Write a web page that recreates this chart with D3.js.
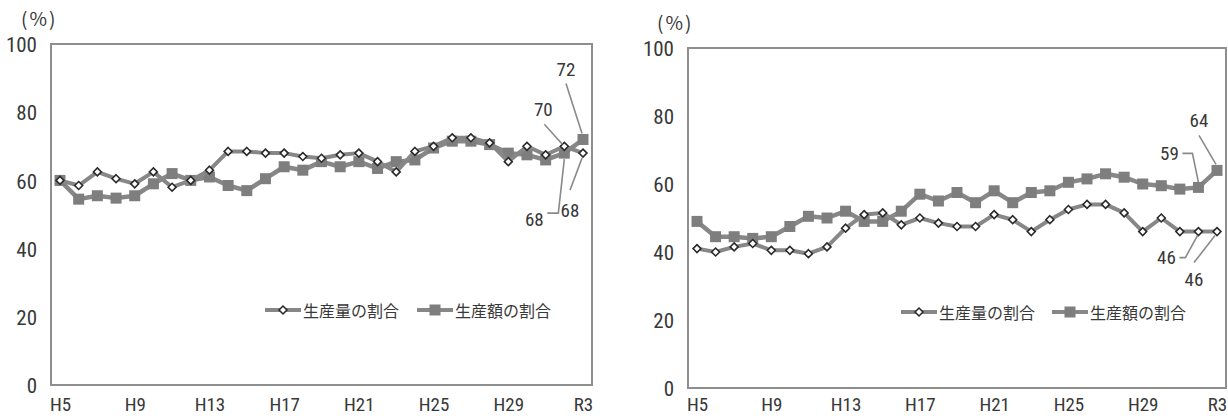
<!DOCTYPE html>
<html>
<head>
<meta charset="utf-8">
<script src="https://cdn.jsdelivr.net/npm/d3@7"></script>
<style>
  html, body { margin: 0; padding: 0; background: #fff; }
  svg { display: block; }
  .num { font-family: "Liberation Sans Narrow", "Arial Narrow", "Roboto Condensed", "Liberation Sans", sans-serif; fill: #383838; }
  .jp { font-family: "Noto Sans CJK JP", "Noto Sans", sans-serif; fill: #383838; }
</style>
</head>
<body>
<svg id="chart" width="1228" height="416"></svg>
<script>
// Fiscal years H5 (1993) to R3 (2021)
const years = ["H5","H6","H7","H8","H9","H10","H11","H12","H13","H14","H15","H16","H17","H18","H19","H20",
  "H21","H22","H23","H24","H25","H26","H27","H28","H29","H30","R1","R2","R3"];
const tickYears = ["H5","H9","H13","H17","H21","H25","H29","R3"];
const yTicks = [0, 20, 40, 60, 80, 100];
const seriesNames = ["生産量の割合", "生産額の割合"];

// Left panel
const leftVolume = [60, 58.5, 62.5, 60.5, 59, 62.5, 58, 60, 63, 68.5, 68.5, 68, 68, 67, 66.5,
  67.5, 68, 65.5, 62.5, 68.5, 70, 72.5, 72.5, 71, 65.5, 70, 67.5, 70, 68];
const leftValue = [60, 54.5, 55.5, 54.8, 55.5, 59, 62, 60, 61, 58.5, 57, 60.5, 64, 63, 65.5,
  64, 65.5, 63.5, 65.5, 66, 69.5, 71.5, 71.5, 70.5, 68, 67.5, 66, 68, 72];

// Right panel
const rightVolume = [41, 40, 41.5, 42.5, 40.5, 40.5, 39.5, 41.5, 47, 51, 51.5, 48, 50, 48.5, 47.5,
  47.5, 51, 49.5, 46, 49.5, 52.5, 54, 54, 51.5, 46, 50, 46, 46, 46];
const rightValue = [49, 44.5, 44.5, 44, 44.5, 47.5, 50.5, 50, 52, 49, 49, 52, 57, 55, 57.5,
  54.5, 58, 54.5, 57.5, 58, 60.5, 61.5, 63, 62, 60, 59.5, 58.5, 59, 64];

const svg = d3.select("#chart");
const LINE = "#878787";

function drawPanel(cfg) {
  const g = svg.append("g");
  const x = d3.scaleLinear().domain([0, years.length - 1]).range([cfg.left + 9, cfg.right - 9]);
  const y = d3.scaleLinear().domain([0, 100]).range([cfg.bottom, cfg.top]);

  // unit label
  g.append("text").attr("class", "jp").attr("x", cfg.unitX).attr("y", cfg.top - 18)
    .attr("font-size", 19).attr("letter-spacing", 2).text("(%)");

  // y axis labels
  const ya = g.append("g").attr("transform", `translate(${cfg.left},1)`)
    .call(d3.axisLeft(y).tickValues(yTicks).tickSize(0).tickPadding(14));
  ya.select(".domain").remove();
  ya.selectAll("text").attr("class", "num").attr("font-size", 21).attr("fill", "#383838");

  // x axis labels
  const xa = g.append("g").attr("transform", `translate(0,${cfg.bottom})`)
    .call(d3.axisBottom(x).tickValues(tickYears.map(t => years.indexOf(t)))
      .tickFormat(i => years[i]).tickSize(0).tickPadding(0));
  xa.select(".domain").remove();
  xa.selectAll("text").attr("class", "num").attr("font-size", 19).attr("fill", "#383838")
    .attr("dy", null).attr("y", cfg.labelBase);

  // frame
  g.append("rect").attr("x", cfg.left).attr("y", cfg.top)
    .attr("width", cfg.right - cfg.left).attr("height", cfg.bottom - cfg.top)
    .attr("fill", "none").attr("stroke", "#8e8e8e").attr("stroke-width", 2);

  const line = d3.line().x((d, i) => x(i)).y(d => y(d));

  // value share: thick line with square markers
  g.append("path").datum(cfg.value).attr("d", line)
    .attr("fill", "none").attr("stroke", LINE).attr("stroke-width", 4.5).attr("stroke-linejoin", "round");
  g.selectAll(".sq").data(cfg.value).join("rect")
    .attr("x", (d, i) => x(i) - 5.5).attr("y", d => y(d) - 5.5)
    .attr("width", 11).attr("height", 11).attr("fill", "#7e7e7e");

  // volume share: line with open diamond markers
  g.append("path").datum(cfg.volume).attr("d", line)
    .attr("fill", "none").attr("stroke", LINE).attr("stroke-width", 4).attr("stroke-linejoin", "round");
  const diamond = d3.symbol().type(d3.symbolDiamond2).size(40);
  g.selectAll(".dm").data(cfg.volume).join("path")
    .attr("d", diamond)
    .attr("transform", (d, i) => `translate(${x(i)},${y(d)})`)
    .attr("fill", "#fff").attr("stroke", "#2a2a2a").attr("stroke-width", 1.6);

  // callouts: value labels with leader lines
  cfg.callouts.forEach(c => {
    const arr = c.series === "value" ? cfg.value : cfg.volume;
    const px = x(c.i), py = y(arr[c.i]);
    const pts = c.path.map(p => [px + p[0], py + p[1]]);
    pts.push([px + c.end[0], py + c.end[1]]);
    g.append("path").attr("d", d3.line()(pts))
      .attr("fill", "none").attr("stroke", "#8a8a8a").attr("stroke-width", 1.6);
    g.append("text").attr("class", "num").attr("font-size", 19)
      .attr("x", px + c.label[0]).attr("y", py + c.label[1])
      .attr("text-anchor", "middle").attr("dominant-baseline", "central")
      .text(Math.round(arr[c.i]));
  });

  // legend
  const lg = g.append("g").attr("transform", `translate(${cfg.legendX},${cfg.legendY})`);
  const items = [
    { name: seriesNames[0], dx: 0, kind: "diamond", w: 36 },
    { name: seriesNames[1], dx: cfg.legendGap, kind: "square", w: 36 }
  ];
  items.forEach(it => {
    const ig = lg.append("g").attr("transform", `translate(${it.dx},0)`);
    ig.append("line").attr("x1", 0).attr("x2", it.w).attr("y1", 0).attr("y2", 0)
      .attr("stroke", LINE).attr("stroke-width", 4);
    if (it.kind === "diamond") {
      ig.append("path").attr("d", diamond).attr("transform", `translate(${it.w / 2},0)`)
        .attr("fill", "#fff").attr("stroke", "#2a2a2a").attr("stroke-width", 1.6);
    } else {
      ig.append("rect").attr("x", it.w / 2 - 5.5).attr("y", -5.5).attr("width", 11).attr("height", 11)
        .attr("fill", "#7e7e7e");
    }
    ig.append("text").attr("class", "jp").attr("x", it.w + 2).attr("y", 0)
      .attr("dominant-baseline", "central").attr("font-size", 16).text(it.name);
  });
}

drawPanel({
  left: 51, right: 592, top: 44, bottom: 385, unitX: 21, labelBase: 26,
  volume: leftVolume, value: leftValue,
  legendX: 265, legendY: 310, legendGap: 152,
  callouts: [
    { series: "value", i: 28, path: [[-17, -56]], end: [-1, -6], label: [-17, -70] },
    { series: "volume", i: 27, path: [[-20, -22]], end: [-2, -2], label: [-21, -37] },
    { series: "value", i: 27, path: [[-17, 60], [-6, 60]], end: [0, 6], label: [-30, 66] },
    { series: "volume", i: 28, path: [[-13, 37]], end: [-1, 5], label: [-13, 57] }
  ]
});

drawPanel({
  left: 688, right: 1226, top: 48, bottom: 388, unitX: 657, labelBase: 23,
  volume: rightVolume, value: rightValue,
  legendX: 901, legendY: 312, legendGap: 151,
  callouts: [
    { series: "value", i: 28, path: [[-18, -35]], end: [-1, -6], label: [-18, -50] },
    { series: "value", i: 27, path: [[-16, -34], [-6, -34]], end: [0, -5], label: [-29, -34] },
    { series: "volume", i: 27, path: [[-19, 26], [-13, 26]], end: [-1, 4], label: [-32, 26] },
    { series: "volume", i: 28, path: [[-23, 31]], end: [-2, 4], label: [-23, 48] }
  ]
});
</script>
</body>
</html>
